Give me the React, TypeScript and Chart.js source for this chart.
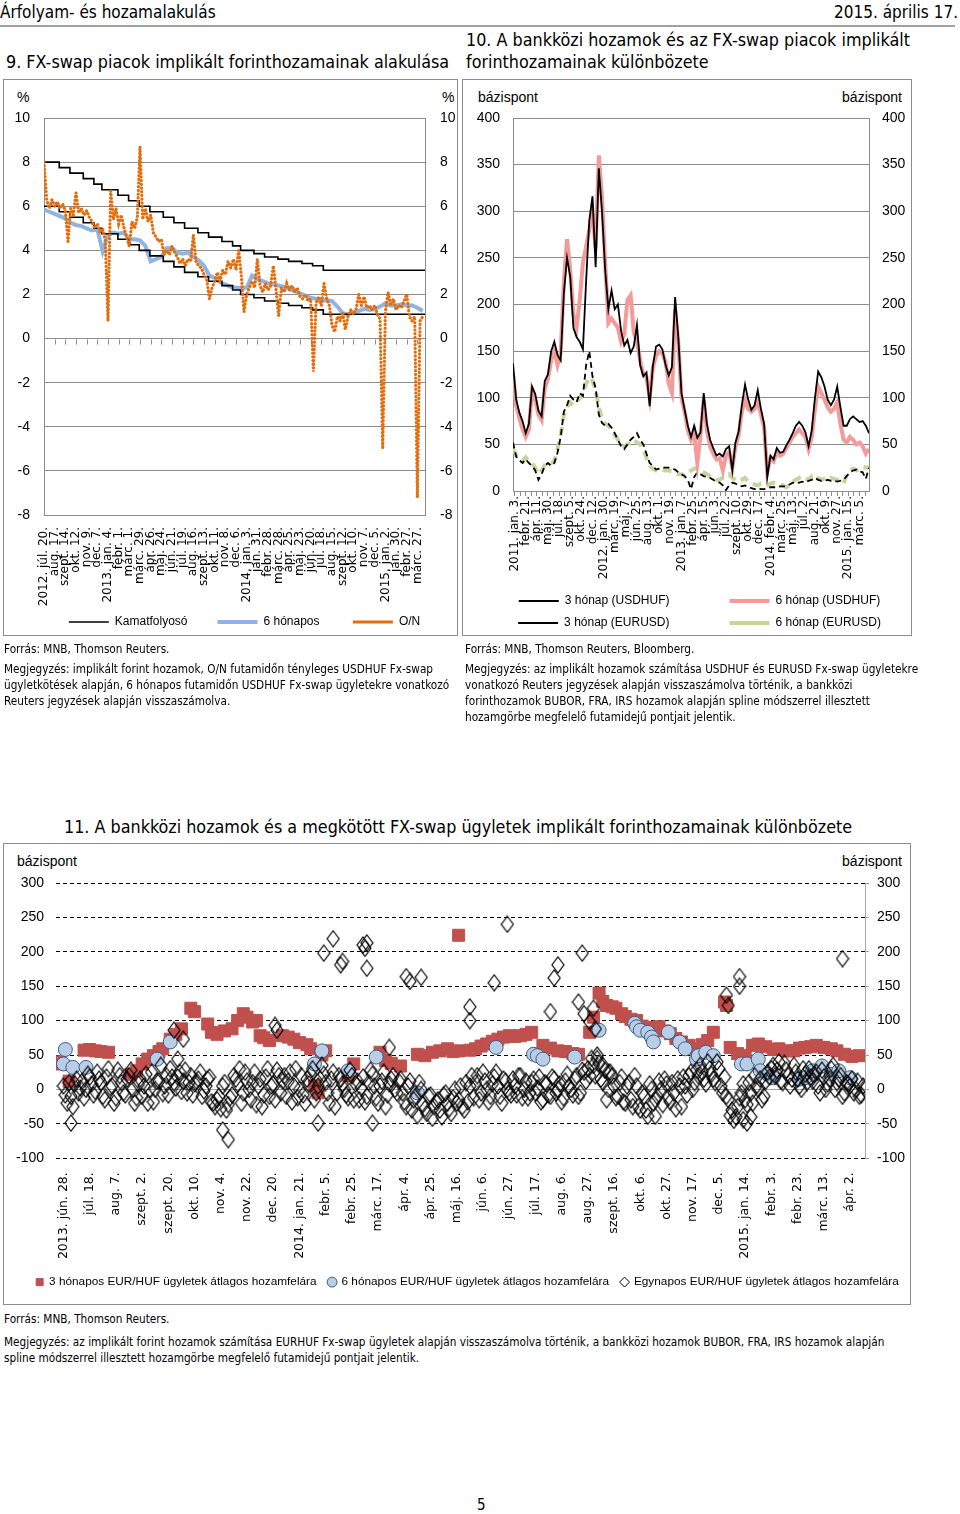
import React, { useEffect, useRef } from "react";
import { Chart, registerables } from "chart.js";

Chart.register(...registerables);

// ================= Chart 9 data =================
const c9TickLabels = ["2012. júl. 20.", "aug. 17.", "szept. 14.", "okt. 12.", "nov. 9.", "dec. 7.", "2013. jan. 4.", "febr. 1.", "márc. 1.", "márc. 29.", "ápr. 26.", "máj. 24.", "jún. 21.", "júl. 19.", "aug. 16.", "szept. 13.", "okt. 11.", "nov. 8.", "dec. 6.", "2014. jan. 3.", "jan. 31.", "febr. 28.", "márc. 28.", "ápr. 25.", "máj. 23.", "jún. 20.", "júl. 18.", "aug. 15.", "szept. 12.", "okt. 10.", "nov. 7.", "dec. 5.", "2015. jan. 2.", "jan. 30.", "febr. 27.", "márc. 27."];
const c9TickStepDays = 28;
// days since 2012-07-20
const c9CorridorDays = [0, 40, 68, 103, 131, 152, 194, 222, 250, 278, 313, 341, 369, 404, 432, 467, 495, 516, 551, 579, 614, 642, 677, 705, 733, 1000];
const c9CorridorUpper = [8.0, 7.75, 7.5, 7.25, 7.0, 6.75, 6.5, 6.25, 6.0, 5.75, 5.5, 5.25, 5.0, 4.8, 4.6, 4.4, 4.2, 4.0, 3.85, 3.7, 3.6, 3.5, 3.4, 3.3, 3.1, 3.1];
const c9CorridorLower = [6.0, 5.75, 5.5, 5.25, 5.0, 4.75, 4.5, 4.25, 4.0, 3.75, 3.5, 3.25, 3.0, 2.8, 2.6, 2.4, 2.2, 2.0, 1.85, 1.7, 1.6, 1.5, 1.4, 1.3, 1.1, 1.1];
const c9SixMonthStepDays = 14;
const c9SixMonth = [
  5.85, 5.75, 5.65, 5.55, 5.45, 5.25, 5.15, 5.1, 5.0, 4.9,
  4.95, 3.95, 4.7, 4.8, 4.75, 4.8, 4.5, 4.5, 4.45, 4.2,
  3.5, 3.6, 3.7, 4.1, 4.1, 3.9, 3.85, 3.9, 3.7, 3.55,
  3.3, 2.85, 2.75, 2.55, 2.45, 2.35, 2.3, 2.3, 2.3, 2.85,
  2.7, 2.6, 2.5, 2.45, 2.4, 2.35, 2.25, 2.15, 2.05, 1.95,
  1.85, 1.8, 1.7, 1.75, 1.7, 1.45, 1.15, 1.1, 1.2, 1.25,
  1.35, 1.3, 1.35, 1.45, 1.6, 1.5, 1.5, 1.55, 1.5, 1.5,
  1.4, 1.25,
];
const c9OvernightStepDays = 7;
const c9Overnight = [
  8.0, 6.3, 5.9, 6.3, 6.0, 6.2, 5.9, 6.1, 5.8, 4.4,
  5.9, 5.6, 6.6, 5.7, 5.9, 5.6, 5.8, 5.5, 5.3, 5.0,
  5.2, 4.8, 5.0, 4.4, 0.8, 6.7, 5.4, 5.9, 5.2, 5.6,
  5.0, 4.6, 4.2, 5.3, 5.0, 5.5, 8.7, 5.4, 5.9, 5.3,
  5.6, 4.8, 4.6, 4.4, 4.5, 3.8, 4.0, 3.8, 4.2, 3.9,
  3.7, 3.4, 3.6, 3.3, 3.6, 3.5, 4.7, 3.5, 3.3, 3.2,
  2.9, 2.7, 1.8, 2.3, 2.6, 3.0, 2.6, 3.1, 2.9, 3.5,
  3.2, 3.6, 3.1, 4.0, 2.8, 1.2, 2.0, 2.3, 2.6, 2.3,
  3.6, 2.4, 2.1, 2.5, 2.2, 2.4, 3.3, 2.2, 1.0, 2.3,
  2.1, 2.5, 2.2, 2.4, 2.1, 2.3, 1.9, 1.8, 2.0, 1.7,
  1.8, -1.5, 1.6, 1.9, 1.5, 2.5, 1.8, 1.5, 0.6, 0.3,
  1.0, 0.8, 1.2, 0.4,
  1.0, 1.3, 1.1, 1.3, 2.0, 1.5, 1.9, 1.4, 1.5, 1.3,
  1.5, 1.1, 0.9, -5.0, 1.2, 2.1, 1.5, 1.8, 1.3, 1.5,
  1.4, 1.7, 2.0, 1.0, 0.8, 1.0, -7.2, 0.8, 1.0,
];

// ================= Chart 10 data =================
const c10TickLabels = ["2011. jan. 3.", "febr. 21.", "ápr. 11.", "máj. 30.", "júl. 18.", "szept. 5.", "okt. 24.", "dec. 12.", "2012. jan. 30.", "márc. 19.", "máj. 7.", "jún. 25.", "aug. 13.", "okt. 1.", "nov. 19.", "2013. jan. 7.", "febr. 25.", "ápr. 15.", "jún. 3.", "júl. 22.", "szept. 10.", "okt. 29.", "dec. 17.", "2014. febr. 4.", "márc. 25.", "máj. 13.", "júl. 2.", "aug. 21.", "okt. 9.", "nov. 27.", "2015. jan. 15.", "márc. 5."];
const c10TickStepWeeks = 7;
const c10FirstWeek = -1;
const c10StepWeeks = 2;
const c10Usd3m = [
  137, 98, 84, 75, 62, 72, 112, 104, 86, 80,
  118, 125, 150, 160, 146, 140, 212, 250, 230, 175,
  165, 160, 152, 225, 290, 316, 240, 346, 300, 237,
  195, 215, 195, 200, 172, 156, 162, 148, 155, 178,
  135, 123, 127, 91, 134, 155, 157, 152, 135, 124,
  133, 208, 165, 105, 87, 70, 58, 70, 57, 63,
  105, 72, 55, 46, 38, 40, 37, 45, 48, 22,
  52, 64, 92, 114, 98, 87, 92, 108, 88, 72,
  15, 38, 34, 46, 41, 42, 49, 55, 62, 70,
  74, 70, 63, 48, 65, 100, 128, 122, 112, 98,
  92, 98, 112, 90, 70, 70, 77, 80, 77, 74,
  75, 70, 62,
];
const c10Usd6m = [
  125, 92, 78, 66, 58, 66, 108, 98, 82, 76,
  110, 120, 140, 150, 135, 148, 225, 270, 238, 190,
  175, 205, 245, 262, 280, 300, 260, 360, 315, 245,
  180, 185, 180, 175, 160, 168, 205, 210, 170, 160,
  140, 125, 122, 100, 132, 145, 150, 148, 138, 115,
  105, 195, 160, 100, 85, 65, 55, 62, 30, 60,
  98, 65, 48, 40, 34, 35, 22, 38, 42, 25,
  48, 60, 85, 98, 88, 85, 88, 95, 82, 68,
  20, 35, 32, 42, 38, 40, 46, 52, 58, 62,
  66, 62, 58, 45, 58, 88, 112, 105, 98, 90,
  85, 88, 95, 72, 55, 52, 58, 55, 50, 52,
  48, 40, 45,
];
const c10Eur3m = [
  52, 37, 33, 30, 34, 30, 27, 22, 12, 18,
  27, 30, 27, 30, 41, 58, 85, 92, 102, 98,
  95, 105, 102, 135, 150, 123, 110, 82, 73, 70,
  72, 68, 62, 55, 48, 45, 50, 55, 58, 62,
  55, 50, 40, 30, 27, 23, 24, 25, 25, 25,
  24, 23, 20, 18, 16, 12, 2, 15, 20, 18,
  16, 15, 14, 12, 10, 9, 6, 1, 6, 9,
  8, 6, 5, 6, 4, 3, 2, 3, 2, 2,
  3, 4, 4, 4, 5, 5, 5, 7, 9, 8,
  9, 10, 9, 11, 12, 14, 12, 11, 11, 12,
  11, 11, 10, 11, 12, 16, 20, 22, 23, 21,
  20, 13, 25,
];
const c10Eur6m = [
  45, 38, 35, 32, 36, 32, 30, 25, 18, 22,
  28, 30, 30, 32, 45, 60, 82, 90, 95, 92,
  95, 100, 105, 115, 122, 118, 108, 90, 78, 72,
  70, 65, 60, 55, 50, 48, 50, 52, 55, 52,
  50, 45, 35, 27, 24, 22, 22, 23, 22, 22,
  21, 20, 18, 18, 16, 20, 22, 24, 24, 22,
  20, 18, 16, 14, 12, 12, 14, 15, 18, 14,
  12, 10, 12, 14, 10, 8, 7, 6, 8, 7,
  6, 8, 9, 8, 7, 6, 4, 6, 10, 12,
  14, 16, 14, 12, 16, 18, 14, 12, 13, 12,
  14, 13, 12, 10, 8, 18, 22, 24, 22, 24,
  26, 25, 26,
];

// ================= Chart 11 data =================
const c11TickLabels = ["2013. jún. 28.", "júl. 18.", "aug. 7.", "szept. 2.", "szept. 20.", "okt. 10.", "nov. 4.", "nov. 22.", "dec. 20.", "2014. jan. 21.", "febr. 5.", "febr. 25.", "márc. 17.", "ápr. 4.", "ápr. 25.", "máj. 16.", "jún. 6.", "jún. 27.", "júl. 17.", "aug. 6.", "aug. 27.", "szept. 16.", "okt. 6.", "okt. 27.", "nov. 17.", "dec. 5.", "2015. jan. 14.", "febr. 3.", "febr. 23.", "márc. 13.", "ápr. 2."];
const c11TickStep = 14; // observations between labels
// [observation index, basis points]
const c11ThreeMonth: [number, number][] = [
  [-3, 37], [-2, 40], [3, 12], [11, 57], [14, 58], [17, 56], [20, 55], [24, 54],
  [36, 22], [39, 27], [42, 37], [45, 44], [48, 49], [51, 55], [53, 59], [57, 73], [60, 80], [63, 88], [68, 118], [70, 113],
  [77, 95], [79, 83], [82, 80], [86, 85], [90, 88], [93, 100], [96, 110], [98, 105], [101, 98], [103, 100], [105, 78], [107, 75], [110, 71],
  [117, 78], [120, 76], [123, 73], [126, 68], [130, 65], [132, 59], [134, 5], [136, -5], [138, 50], [140, 56],
  [152, 20], [155, 37], [169, 54], [172, 42], [175, 38], [180, 34],
  [189, 51], [193, 49], [197, 54], [201, 56], [205, 59], [208, 55], [211, 56], [211, 224],
  [217, 57], [220, 59], [223, 63], [226, 66], [229, 70], [232, 73], [235, 76], [238, 78], [241, 77], [244, 78], [247, 80], [250, 83],
  [256, 64], [260, 60], [264, 56], [268, 55], [272, 52], [275, 51],
  [281, 83], [283, 105], [286, 140], [288, 128], [290, 122], [293, 120], [295, 118], [298, 110], [300, 106], [303, 102], [306, 100], [309, 92],
  [312, 88], [315, 90], [318, 91], [321, 85], [324, 81], [327, 74], [330, 69], [334, 64], [338, 59], [341, 65], [344, 71], [347, 83],
  [353, 127], [354, 122], [356, 61], [360, 52], [364, 49], [368, 64], [371, 66], [375, 62], [379, 58], [382, 59], [386, 56], [390, 56],
  [393, 60], [396, 61], [399, 62], [402, 64], [406, 61], [410, 59], [413, 56], [417, 51], [421, 48], [425, 49],
];
const c11SixMonth: [number, number][] = [
  [0, 37], [1, 58], [5, 32], [12, 32], [50, 44], [57, 69], [134, 37], [138, 56], [152, 27], [167, 47], [189, -5],
  [231, 61], [251, 51], [253, 49], [256, 44], [273, 47], [286, 86], [305, 96], [306, 91], [308, 86], [312, 83], [314, 76], [315, 69],
  [323, 83], [329, 69], [332, 59], [338, 44], [339, 49], [343, 54], [347, 49], [362, 37], [365, 37], [371, 44], [372, 27], [376, 22],
  [379, 17], [393, 15], [396, 17], [400, 27], [405, 34], [410, 22], [414, 27], [420, 17],
];
// O/N values at even observation indices (0, 2, 4, ...)
const c11OvernightEven = [
  5, -20, -10, 8, -5, 12, 0, 18, -8, 25,
  10, -15, 30, 5, -12, 20, -5, 15, 28, -20,
  8, -10, 22, 0, -18, 12, 35, 5, -8, 18,
  2, 25, 12, -5, 20, 8, 15, -10, 5, 18,
  -20, -15, -28, 10, -22, -8, 15, 30, -5, 12,
  -15, 25, 5, -25, 18, -10, 8, 28, -5, 20,
  12, -18, 30, 0, -8, 15, 22, -15, 5, 35,
  10, -20, 25, -5, 15, 0, -12, 20, 8, -15,
  18, -10, 28, 5, -20, 12, -25, 8, 20, -5,
  15, -18, 5, -30, -10, 10, -22, -35, -8, -25,
  -15, -40, -5, -28, -12, -20, 5, -30, -18, 20,
  10, -15, 25, 0, -10, 18, 5, -20, 12, -5,
  15, -8, 20, 0, -12, 10, -5, 18, -15, 8,
  -10, 15, 0, -18, 12, 5, -8, 20, -5, 25,
  30, 45, 20, 38, 10, -15, 25, 5, -10, 18,
  -20, 10, -25, 5, -30, -10, -39, 0, -15, 12,
  -22, 8, -18, -5, 15, -25, 5, 20, 0, 28,
  35, 15, 40, 22, 10, 30, -5, -10, -38, -45,
  -25, -5, -15, 10, -20, 5, 15, -10, 25, 30,
  20, 40, 10, 28, 5, 35, 15, 0, 22, 30,
  12, 25, -5, 18, 8, 30, 0, 15, -10, 10,
  5, -5, 12, -8, 0,
];
// O/N values at odd observation indices (1, 3, 5, ...)
const c11OvernightOdd = [
  -8, 10, -25, 15, 2, -12, 22, 8, -3, 15,
  -10, 18, 3, -20, 28, 10, -8, 20, 0, -12,
  15, 5, -20, 25, 0, 12, -6, 20, 30, 10,
  18, -3, 28, 10, -8, 12, 25, -2, 15, -18,
  -25, -10, 5, -30, -12, 20, 8, -20, 25, 0,
  10, -22, 15, -8, 30, 5, -15, 20, 12, -10,
  25, 5, -12, 20, -20, 8, 30, -5, 15, 22,
  -5, 15, -25, 20, 8, -8, 28, -15, 12, 2,
  -18, 10, 22, -12, 5, 25, -8, 15, 0, 12,
  -5, -25, 12, -15, -38, 0, -28, -10, -42, -18,
  -30, -8, -20, -35, 0, -15, -25, 10, 5, -12,
  20, -5, 12, -18, 8, 25, -10, 15, 0, -8,
  5, 20, -12, 12, -5, 15, 2, -18, 10, -8,
  18, -5, 8, -12, 22, 0, 15, -10, 28, 12,
  20, 35, 50, 15, 28, 0, 20, -12, 10, -18,
  5, -15, 20, -25, -5, -30, 8, -20, -10, 0,
  15, -12, 10, -28, 5, 18, -8, 25, 10, 20,
  25, 8, 30, 15, 40, 5, 18, -15, -30, -40,
  -12, 8, -22, -5, 20, 0, -15, 12, 18, 35,
  28, 12, 38, 20, 15, 25, 5, 30, 10, 18,
  22, 5, 28, 0, 15, 35, 10, 20, -5, 8,
  15, 0, -10, 5,
];
const c11OvernightExtra: [number, number][] = [
  [4, -49], [59, 86], [61, 44], [64, 73], [85, -59], [88, -73], [113, 93], [114, 86], [136, -49], [139, 198], [144, 219],
  [148, 181], [149, 186], [160, 210], [161, 205], [162, 213], [162, 176], [165, -49], [174, 61], [183, 164], [185, 157],
  [191, 163], [217, 120], [217, 100], [230, 155], [237, 240], [260, 113], [262, 162], [264, 181], [275, 127], [277, 198],
  [278, 110], [281, 98], [283, 118], [284, 88], [285, 45], [288, 35], [291, 25], [316, -39], [354, 137], [355, 122],
  [361, 164], [361, 150], [363, -44], [365, -49], [367, -40], [416, 190],
];

// ================= styling =================
const GRID = "#8c8c8c";
const TICK_FONT = '"Liberation Sans", Arial, sans-serif';
const DATE_FONT = '"DejaVu Sans", Verdana, sans-serif';
const TEXT_FONT = '"DejaVu Sans Condensed", "DejaVu Sans", sans-serif';
const HEAD_FONT = '"Liberation Sans Narrow", "DejaVu Sans Condensed", sans-serif';
const NBSP = "\u00a0";

const zeroTicksPlugin = {
  id: "zeroTicks",
  beforeDatasetsDraw(chart: any) {
    const xs = chart.scales.x;
    const ys = chart.scales.y;
    const y0 = Math.round(ys.getPixelForValue(0)) + 0.5;
    const ctx = chart.ctx;
    ctx.save();
    ctx.strokeStyle = GRID;
    ctx.lineWidth = 1;
    ctx.beginPath();
    xs.ticks.forEach((t: any) => {
      const px = Math.round(xs.getPixelForValue(t.value)) + 0.5;
      ctx.moveTo(px, y0);
      ctx.lineTo(px, y0 + 5);
    });
    ctx.stroke();
    ctx.restore();
  },
};

function legendItems(gaps: Record<number, number>, styles: Record<number, string> = {}) {
  return (chart: any) => {
    const items = (Chart as any).defaults.plugins.legend.labels.generateLabels(chart);
    items.forEach((it: any) => {
      const g = gaps[it.datasetIndex];
      if (g) it.text = it.text + NBSP.repeat(g);
      if (styles[it.datasetIndex]) it.pointStyle = styles[it.datasetIndex];
    });
    return items;
  };
}

function chart9Config(): any {
  return {
    type: "line",
    data: {
      datasets: [
        { label: "Kamatfolyosó", data: c9CorridorDays.map((d, i) => ({ x: d, y: c9CorridorUpper[i] })), borderColor: "#000", backgroundColor: "#000", borderWidth: 1.6, pointRadius: 0, stepped: true, order: 1 },
        { label: "Kamatfolyosó alsó", data: c9CorridorDays.map((d, i) => ({ x: d, y: c9CorridorLower[i] })), borderColor: "#000", backgroundColor: "#000", borderWidth: 1.6, pointRadius: 0, stepped: true, order: 1 },
        { label: "6 hónapos", data: c9SixMonth.map((v, i) => ({ x: i * c9SixMonthStepDays, y: v })), borderColor: "#8EB4E3", backgroundColor: "#8EB4E3", borderWidth: 4, pointRadius: 0, order: 2 },
        { label: "O/N", data: c9Overnight.map((v, i) => ({ x: i * c9OvernightStepDays, y: v })), borderColor: "#E46C0A", backgroundColor: "#E46C0A", borderWidth: 3.2, borderDash: [0.1, 3.6], borderCapStyle: "round", pointRadius: 0, order: 0 },
      ],
    },
    options: {
      responsive: false,
      animation: false,
      layout: { padding: { top: 38, bottom: 2, left: 0, right: 0 } },
      plugins: {
        tooltip: { enabled: false },
        legend: {
          position: "bottom",
          labels: {
            usePointStyle: true, pointStyle: "line", pointStyleWidth: 40, padding: 10,
            color: "#000", font: { family: TICK_FONT, size: 12 },
            generateLabels: legendItems({ 0: 6, 2: 7 }),
            filter: (it: any) => it.datasetIndex !== 1,
            sort: (a: any, b: any) => a.datasetIndex - b.datasetIndex,
          },
        },
      },
      scales: {
        x: {
          type: "linear", min: 0, max: 1000,
          afterBuildTicks: (s: any) => { s.ticks = c9TickLabels.map((_, k) => ({ value: k * c9TickStepDays })); },
          afterFit: (s: any) => { s.height = 91; },
          ticks: { autoSkip: false, minRotation: 90, maxRotation: 90, padding: 4, color: "#000", font: { family: DATE_FONT, size: 12 }, callback: (_v: any, i: number) => c9TickLabels[i] ?? "" },
          grid: { display: false }, border: { display: false },
        },
        y: {
          position: "left", min: -8, max: 10,
          afterFit: (s: any) => { s.width = 40; },
          ticks: { stepSize: 2, padding: 14, color: "#000", font: { family: TICK_FONT, size: 14 } },
          grid: { color: GRID, drawTicks: false }, border: { display: true, color: GRID },
        },
        y2: {
          position: "right", min: -8, max: 10,
          afterFit: (s: any) => { s.width = 60; },
          ticks: { stepSize: 2, padding: 15, color: "#000", font: { family: TICK_FONT, size: 14 } },
          grid: { display: false, drawTicks: false }, border: { display: true, color: GRID },
        },
      },
    },
    plugins: [zeroTicksPlugin],
  };
}

function chart10Config(): any {
  const toPts = (arr: number[]) => arr.map((v, i) => ({ x: c10FirstWeek + i * c10StepWeeks, y: v }));
  return {
    type: "line",
    data: {
      datasets: [
        { label: "3 hónap (USDHUF)", data: toPts(c10Usd3m), borderColor: "#000", backgroundColor: "#000", borderWidth: 1.8, pointRadius: 0 },
        { label: "6 hónap (USDHUF)", data: toPts(c10Usd6m), borderColor: "#F59A9A", backgroundColor: "#F59A9A", borderWidth: 4, pointRadius: 0 },
        { label: "3 hónap (EURUSD)", data: toPts(c10Eur3m), borderColor: "#000", backgroundColor: "#000", borderWidth: 1.8, borderDash: [6, 4], pointRadius: 0 },
        { label: "6 hónap (EURUSD)", data: toPts(c10Eur6m), borderColor: "#C3D69B", backgroundColor: "#C3D69B", borderWidth: 4, borderDash: [9, 6], pointRadius: 0 },
      ],
    },
    options: {
      responsive: false,
      animation: false,
      layout: { padding: { top: 38, bottom: 1, left: 0, right: 0 } },
      plugins: {
        tooltip: { enabled: false },
        legend: {
          position: "bottom",
          labels: {
            usePointStyle: true, pointStyle: "line", pointStyleWidth: 40, padding: 10, color: "#000", font: { family: TICK_FONT, size: 12 },
            generateLabels: legendItems({ 0: 15, 2: 15 }),
          },
        },
      },
      scales: {
        x: {
          type: "linear", min: -1, max: 223,
          afterBuildTicks: (s: any) => {
            const t: any[] = [];
            for (let m = 0; m < c10TickLabels.length * 2; m++) t.push({ value: (m * c10TickStepWeeks) / 2 });
            s.ticks = t;
          },
          afterFit: (s: any) => { s.height = 94; },
          ticks: { autoSkip: false, minRotation: 90, maxRotation: 90, padding: 0, color: "#000", font: { family: DATE_FONT, size: 12 }, callback: (_v: any, i: number) => (i % 2 === 0 ? c10TickLabels[i / 2] : "") },
          grid: { display: true, drawOnChartArea: false, drawTicks: true, tickLength: 5, color: GRID }, border: { display: false },
        },
        y: {
          position: "left", min: 0, max: 400,
          afterFit: (s: any) => { s.width = 50; },
          ticks: { stepSize: 50, padding: 13, color: "#000", font: { family: TICK_FONT, size: 14 } },
          grid: { color: GRID, drawTicks: false }, border: { display: true, color: GRID },
        },
        y2: {
          position: "right", min: 0, max: 400,
          afterFit: (s: any) => { s.width = 67; },
          ticks: { stepSize: 50, padding: 13, color: "#000", font: { family: TICK_FONT, size: 14 } },
          grid: { display: false, drawTicks: false }, border: { display: true, color: GRID },
        },
      },
    },
  };
}

function makeDiamond(w: number, h: number) {
  const c = document.createElement("canvas");
  c.width = w + 2;
  c.height = h + 2;
  const g = c.getContext("2d") as CanvasRenderingContext2D;
  g.strokeStyle = "#000";
  g.lineWidth = 1.2;
  g.beginPath();
  g.moveTo(c.width / 2, 1);
  g.lineTo(c.width - 1, c.height / 2);
  g.lineTo(c.width / 2, c.height - 1);
  g.lineTo(1, c.height / 2);
  g.closePath();
  g.stroke();
  return c;
}

function chart11Config(): any {
  const on = c11OvernightEven.map((v, i) => ({ x: i * 2, y: v }))
    .concat(c11OvernightOdd.map((v, i) => ({ x: i * 2 + 1, y: v })))
    .concat(c11OvernightExtra.map(([x, y]) => ({ x, y })));
  const diamond = makeDiamond(12, 16);
  return {
    type: "scatter",
    data: {
      datasets: [
        { label: "3 hónapos EUR/HUF ügyletek átlagos hozamfelára", data: c11ThreeMonth.map(([x, y]) => ({ x, y })), pointStyle: "rect", pointRadius: 8.5, backgroundColor: "#C0504D", borderColor: "#C0504D", borderWidth: 1, order: 3 },
        { label: "6 hónapos EUR/HUF ügyletek átlagos hozamfelára", data: c11SixMonth.map(([x, y]) => ({ x, y })), pointStyle: "circle", pointRadius: 7, backgroundColor: "#B9CDE5", borderColor: "#385D8A", borderWidth: 1, order: 2 },
        { label: "Egynapos EUR/HUF ügyletek átlagos hozamfelára", data: on, pointStyle: diamond, pointRadius: 8, backgroundColor: "rgba(255,255,255,0)", borderColor: "#000", borderWidth: 1, order: 1 },
      ],
    },
    options: {
      responsive: false,
      animation: false,
      layout: { padding: { top: 39, bottom: 6, left: 0, right: 0 } },
      plugins: {
        tooltip: { enabled: false },
        legend: {
          position: "bottom",
          labels: {
            usePointStyle: true, boxWidth: 7, boxHeight: 7, padding: 12, color: "#000", font: { family: TICK_FONT, size: 11.8 },
            generateLabels: legendItems({}, { 2: "rectRot" }),
            sort: (a: any, b: any) => a.datasetIndex - b.datasetIndex,
          },
        },
      },
      scales: {
        x: {
          type: "linear", min: -4, max: 428,
          afterBuildTicks: (s: any) => { s.ticks = c11TickLabels.map((_, k) => ({ value: k * c11TickStep })); },
          afterFit: (s: any) => { s.height = 106; },
          ticks: { autoSkip: false, minRotation: 90, maxRotation: 90, padding: 6, color: "#000", font: { family: DATE_FONT, size: 12.5 }, callback: (_v: any, i: number) => c11TickLabels[i] ?? "" },
          grid: { display: false }, border: { display: false },
        },
        y: {
          position: "left", min: -100, max: 300,
          afterFit: (s: any) => { s.width = 52; },
          ticks: { stepSize: 50, padding: 12, color: "#000", font: { family: TICK_FONT, size: 14 } },
          grid: { color: (c: any) => (c.tick && c.tick.value === 0 ? "#a6a6a6" : "#000"), drawTicks: false },
          border: { display: false, dash: (c: any) => (c.tick && c.tick.value === 0 ? [] : [4, 3]) },
        },
        y2: {
          position: "right", min: -100, max: 300,
          afterFit: (s: any) => { s.width = 66; },
          ticks: { stepSize: 50, padding: 8, color: "#000", font: { family: TICK_FONT, size: 14 } },
          grid: { display: true, drawOnChartArea: false, drawTicks: true, tickLength: 4, color: "#a6a6a6" },
          border: { display: true, color: "#a6a6a6" },
        },
      },
    },
  };
}

function ChartCanvas({ factory, left, top, width, height }: any) {
  const ref = useRef<HTMLCanvasElement>(null);
  useEffect(() => {
    const chart = new Chart(ref.current as HTMLCanvasElement, factory());
    return () => chart.destroy();
  }, []);
  return <canvas ref={ref} width={width} height={height} style={{ position: "absolute", left, top, width, height }} />;
}

function Txt({ x, y, size, family = TEXT_FONT, align = "left", children }: any) {
  const lh = Math.round(size * 1.25);
  const style: any = { position: "absolute", top: y - lh / 2, fontSize: size, lineHeight: lh + "px", fontFamily: family, whiteSpace: "nowrap", color: "#000" };
  if (align === "right") style.right = 960 - x;
  else style.left = x;
  return <div style={style}>{children}</div>;
}

const boxStyle = (left: number, top: number, w: number, h: number): any => ({ position: "absolute", left, top, width: w, height: h, border: "1px solid #8c8c8c", boxSizing: "border-box" });

const TITLE = 17.8;
const NOTE = 11.7;

export default function App() {
  return (
    <div style={{ position: "absolute", left: 0, top: 0, width: 960, height: 1514, background: "#fff", overflow: "hidden" }}>
      <Txt x={0} y={12} size={17} family={HEAD_FONT}>Árfolyam- és hozamalakulás</Txt>
      <Txt x={958} y={12} size={17} family={HEAD_FONT} align="right">2015. április 17.</Txt>
      <div style={{ position: "absolute", left: 0, top: 25, width: 955, height: 2, background: "#a0a0a0" }} />

      <Txt x={6} y={62} size={TITLE}>9. FX-swap piacok implikált forinthozamainak alakulása</Txt>
      <Txt x={466} y={40} size={TITLE}>10. A bankközi hozamok és az FX-swap piacok implikált</Txt>
      <Txt x={466} y={62} size={TITLE}>forinthozamainak különbözete</Txt>

      <div style={boxStyle(3, 79, 455, 557)} />
      <div style={boxStyle(462, 79, 450, 557)} />
      <Txt x={17} y={97} size={14} family={TICK_FONT}>%</Txt>
      <Txt x={442} y={97} size={14} family={TICK_FONT}>%</Txt>
      <Txt x={478} y={97} size={14} family={TICK_FONT}>bázispont</Txt>
      <Txt x={902} y={97} size={14} family={TICK_FONT} align="right">bázispont</Txt>
      <ChartCanvas factory={chart10Config} left={463} top={80} width={473} height={560} />
      <ChartCanvas factory={chart9Config} left={4} top={80} width={481} height={560} />

      <Txt x={4} y={649} size={NOTE}>Forrás: MNB, Thomson Reuters.</Txt>
      <Txt x={4} y={669} size={NOTE}>Megjegyzés: implikált forint hozamok, O/N futamidőn tényleges USDHUF Fx-swap</Txt>
      <Txt x={4} y={685} size={NOTE}>ügyletkötések alapján, 6 hónapos futamidőn USDHUF Fx-swap ügyletekre vonatkozó</Txt>
      <Txt x={4} y={701} size={NOTE}>Reuters jegyzések alapján visszaszámolva.</Txt>
      <Txt x={465} y={649} size={NOTE}>Forrás: MNB, Thomson Reuters, Bloomberg.</Txt>
      <Txt x={465} y={669} size={NOTE}>Megjegyzés: az implikált hozamok számítása USDHUF és EURUSD Fx-swap ügyletekre</Txt>
      <Txt x={465} y={685} size={NOTE}>vonatkozó Reuters jegyzések alapján visszaszámolva történik, a bankközi</Txt>
      <Txt x={465} y={701} size={NOTE}>forinthozamok BUBOR, FRA, IRS hozamok alapján spline módszerrel illesztett</Txt>
      <Txt x={465} y={717} size={NOTE}>hozamgörbe megfelelő futamidejű pontjait jelentik.</Txt>

      <Txt x={64} y={827} size={TITLE}>11. A bankközi hozamok és a megkötött FX-swap ügyletek implikált forinthozamainak különbözete</Txt>
      <div style={boxStyle(3, 843, 908, 462)} />
      <Txt x={17} y={861} size={14} family={TICK_FONT}>bázispont</Txt>
      <Txt x={902} y={861} size={14} family={TICK_FONT} align="right">bázispont</Txt>
      <ChartCanvas factory={chart11Config} left={4} top={844} width={927} height={460} />

      <Txt x={4} y={1319} size={NOTE}>Forrás: MNB, Thomson Reuters.</Txt>
      <Txt x={4} y={1342} size={NOTE}>Megjegyzés: az implikált forint hozamok számítása EURHUF Fx-swap ügyletek alapján visszaszámolva történik, a bankközi hozamok BUBOR, FRA, IRS hozamok alapján</Txt>
      <Txt x={4} y={1358} size={NOTE}>spline módszerrel illesztett hozamgörbe megfelelő futamidejű pontjait jelentik.</Txt>

      <Txt x={477} y={1505} size={15}>5</Txt>
    </div>
  );
}
